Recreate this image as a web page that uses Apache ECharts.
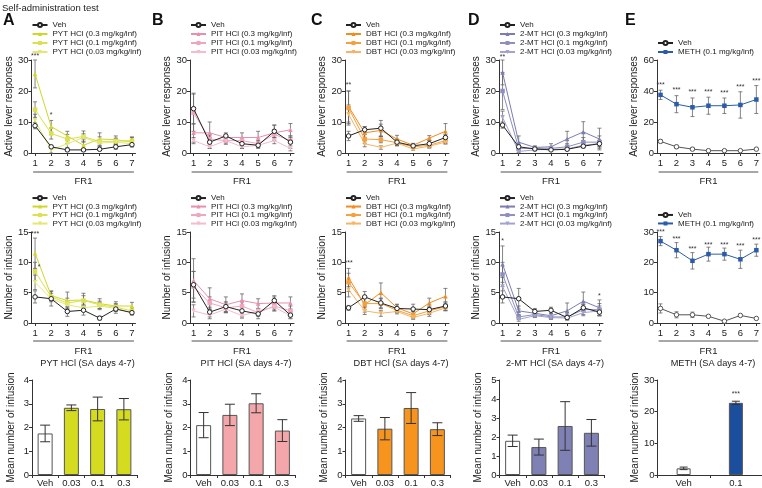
<!DOCTYPE html>
<html><head><meta charset="utf-8">
<script src="https://cdn.jsdelivr.net/npm/echarts@6/dist/echarts.min.js"></script>
<style>html,body{margin:0;padding:0;background:#fff}#c{width:762px;height:488px}</style>
</head><body><div id="c"></div>
<script>
// ---------------- DATA ----------------
const days = [1, 2, 3, 4, 5, 6, 7];
const doseLabels = ['0.3', '0.1', '0.03'];
const barCats4 = ['Veh', '0.03', '0.1', '0.3'];
const barCatsMeth = ['Veh', '0.1'];

// Panel A: PYT HCl  (rows: Veh, 0.3, 0.1, 0.03)
const pytActMean = [
  [8.8, 2.0, 1.0, 1.0, 1.2, 2.0, 2.7],
  [25.5, 8.5, 5.5, 2.5, 4.5, 4.3, 3.5],
  [14.0, 6.3, 4.5, 5.3, 3.7, 3.8, 4.0],
  [10.5, 1.0, 3.0, 5.0, 3.2, 3.5, 3.0]
];
const pytActSem = [
  [1.0, 0.5, 0.4, 0.4, 0.4, 0.8, 0.5],
  [4.5, 2.0, 1.5, 2.0, 2.0, 1.2, 1.5],
  [2.5, 1.8, 1.5, 1.8, 1.5, 1.0, 1.2],
  [2.0, 1.0, 1.2, 1.2, 1.0, 1.0, 1.0]
];
const pytActStars = [[1, 31.3, '***'], [2, 12.2, '*']];
const pytInfMean = [
  [4.3, 4.0, 1.9, 2.1, 0.8, 2.3, 1.7],
  [11.5, 4.5, 3.7, 3.8, 3.2, 2.8, 2.8],
  [8.5, 4.3, 3.3, 3.7, 3.0, 2.6, 2.0],
  [6.7, 4.0, 3.0, 2.5, 2.8, 2.4, 1.7]
];
const pytInfSem = [
  [1.0, 1.2, 0.8, 0.8, 0.3, 0.7, 0.3],
  [2.5, 0.8, 1.4, 1.1, 0.8, 0.7, 0.6],
  [1.5, 0.6, 0.8, 0.8, 0.6, 0.6, 0.5],
  [1.2, 0.5, 0.7, 0.6, 0.6, 0.5, 0.4]
];
const pytInfStars = [[1, 14.6, '***'], [1.25, 9.3, '*']];
const pytBarMean = [1.75, 2.83, 2.78, 2.77];
const pytBarSem = [0.35, 0.12, 0.5, 0.45];

// Panel B: PIT HCl
const pitActMean = [
  [14.3, 3.5, 5.5, 3.0, 2.5, 7.0, 3.5],
  [6.5, 6.5, 5.0, 5.0, 5.0, 6.5, 7.5],
  [13.0, 4.5, 4.0, 4.0, 3.0, 6.0, 4.0],
  [4.0, 2.0, 4.0, 2.0, 2.5, 4.0, 1.5]
];
const pitActSem = [
  [5.0, 2.0, 1.0, 1.5, 1.0, 2.0, 2.0],
  [3.0, 3.5, 1.0, 1.5, 2.0, 2.5, 2.0],
  [6.0, 1.5, 1.2, 1.0, 1.0, 1.5, 1.0],
  [1.0, 0.5, 0.8, 0.5, 0.8, 1.0, 0.8]
];
const pitActStars = [];
const pitInfMean = [
  [6.3, 1.8, 2.7, 2.0, 1.5, 3.7, 1.3],
  [7.0, 4.0, 3.0, 3.7, 3.2, 3.3, 3.3],
  [6.0, 3.3, 2.5, 2.8, 1.7, 2.8, 2.0],
  [2.0, 1.3, 2.3, 1.2, 2.0, 2.6, 1.2]
];
const pitInfSem = [
  [2.2, 0.8, 0.8, 1.0, 0.8, 0.8, 0.6],
  [3.6, 1.8, 1.3, 1.1, 0.8, 1.0, 1.0],
  [2.5, 1.0, 0.8, 0.8, 0.6, 0.8, 0.8],
  [1.0, 0.6, 0.5, 0.4, 0.4, 0.6, 0.4]
];
const pitInfStars = [];
const pitBarMean = [2.1, 2.53, 3.02, 1.87];
const pitBarSem = [0.53, 0.45, 0.4, 0.46];

// Panel C: DBT HCl
const dbtActMean = [
  [5.5, 7.5, 8.0, 3.5, 2.3, 3.0, 5.0],
  [15.0, 6.5, 7.3, 4.5, 2.5, 4.8, 7.0],
  [14.5, 4.5, 4.3, 3.3, 2.0, 2.5, 4.0],
  [12.5, 3.0, 1.8, 3.2, 1.3, 2.2, 3.5]
];
const dbtActSem = [
  [1.5, 1.0, 2.5, 1.0, 0.5, 1.0, 1.0],
  [5.0, 2.0, 2.0, 1.2, 0.6, 0.8, 2.5],
  [5.5, 1.5, 1.0, 1.0, 0.5, 0.8, 1.0],
  [3.0, 1.0, 0.6, 0.8, 0.4, 0.6, 0.6]
];
const dbtActStars = [[1, 21.8, '**']];
const dbtInfMean = [
  [2.5, 4.3, 3.3, 2.4, 2.3, 2.2, 2.8],
  [7.5, 3.0, 5.0, 2.5, 1.5, 3.3, 4.4],
  [6.7, 3.2, 3.2, 2.1, 1.2, 2.0, 2.7],
  [5.5, 2.0, 1.6, 1.9, 0.9, 1.6, 2.5]
];
const dbtInfSem = [
  [0.4, 0.9, 0.8, 0.6, 0.8, 0.6, 0.7],
  [1.5, 1.2, 1.6, 0.6, 0.4, 0.8, 1.3],
  [1.5, 1.0, 0.8, 0.4, 0.4, 0.6, 0.6],
  [1.2, 0.6, 0.5, 0.4, 0.3, 0.5, 0.5]
];
const dbtInfStars = [[1, 9.9, '***']];
const dbtBarMean = [2.38, 1.95, 2.82, 1.93];
const dbtBarSem = [0.12, 0.47, 0.65, 0.27];

// Panel D: 2-MT HCl
const mtActMean = [
  [9.0, 2.0, 1.3, 1.0, 1.2, 2.2, 3.0],
  [26.0, 3.5, 1.8, 2.0, 4.5, 6.8, 4.5],
  [20.0, 1.5, 1.5, 1.5, 2.0, 3.5, 3.5],
  [11.5, 0.5, 1.0, 1.2, 1.3, 2.5, 3.0]
];
const mtActSem = [
  [1.0, 0.5, 0.3, 0.3, 0.3, 0.5, 1.0],
  [4.0, 2.0, 0.5, 1.0, 2.5, 3.3, 3.5],
  [6.0, 0.8, 0.4, 0.5, 1.0, 1.5, 2.0],
  [2.0, 0.3, 0.3, 0.4, 0.5, 0.8, 1.0]
];
const mtActStars = [[1, 31.0, '**']];
const mtInfMean = [
  [4.3, 4.0, 1.9, 2.1, 0.9, 2.5, 1.8],
  [9.7, 2.0, 1.6, 1.2, 2.0, 3.6, 2.5],
  [8.0, 1.0, 1.4, 1.0, 1.0, 2.2, 2.2],
  [6.0, 0.6, 1.2, 0.9, 0.8, 1.7, 2.0]
];
const mtInfSem = [
  [1.0, 1.7, 0.5, 0.5, 0.3, 0.6, 0.5],
  [3.0, 0.8, 0.5, 0.4, 1.3, 1.5, 1.3],
  [2.0, 0.4, 0.4, 0.3, 0.5, 0.8, 1.0],
  [1.5, 0.3, 0.3, 0.3, 0.3, 0.5, 0.8]
];
const mtInfStars = [[1, 13.5, '*'], [7, 4.4, '*']];
const mtBarMean = [1.8, 1.47, 2.58, 2.22];
const mtBarSem = [0.3, 0.42, 1.28, 0.7];

// Panel E: METH  (rows: Veh, METH 0.1)
const methActMean = [
  [7.5, 4.0, 2.5, 1.5, 1.5, 1.5, 2.5],
  [37.5, 31.5, 29.5, 30.5, 30.5, 31.0, 34.5]
];
const methActSem = [
  [1.0, 1.0, 0.8, 0.5, 0.5, 0.5, 0.5],
  [3.0, 5.5, 6.0, 5.5, 5.0, 8.5, 9.0]
];
const methActStars = [[1, 44, '***'], [2, 40.5, '***'], [3, 39, '***'], [4, 39.5, '***'], [5, 38.8, '***'], [6, 42.5, '***'], [7, 46.5, '***']];
const methInfMean = [
  [4.8, 2.7, 2.7, 2.2, 0.6, 2.5, 1.5],
  [27.0, 24.0, 20.5, 22.7, 22.7, 21.0, 24.0]
];
const methInfSem = [
  [1.5, 1.0, 0.9, 0.3, 0.2, 0.3, 0.2],
  [1.5, 2.5, 2.7, 2.3, 2.0, 3.0, 2.0]
];
const methInfStars = [[1, 30, '***'], [2, 27.8, '***'], [3, 24.5, '***'], [4, 25.8, '***'], [5, 25.6, '***'], [6, 25.3, '***'], [7, 27.3, '***']];
const methBarMean = [2.1, 22.8];
const methBarSem = [0.4, 0.5];
const methBarStars = [['0.1', 25.6, '***']];

// ---------------- LAYOUT / STYLE ----------------
const FONT = '"Liberation Sans", Arial, sans-serif';
const colLeft = [31.5, 190, 345, 499, 657];
const gridW = 104;
const rowBox = [{top: 60, height: 93}, {top: 232, height: 91}, {top: 380, height: 95}];
const AX = '#333';

const panels = [
  {letter: 'A', drug: 'PYT HCl', colors: ['#cfd82a', '#dbe04c', '#e4e873'], bar: '#d5dc1f',
   act: [pytActMean, pytActSem, pytActStars], inf: [pytInfMean, pytInfSem, pytInfStars], bars: [barCats4, pytBarMean, pytBarSem, []], barMax: 4, barInt: 1},
  {letter: 'B', drug: 'PIT HCl', colors: ['#e98fac', '#efa5bd', '#f4bccf'], bar: '#f4a7aa',
   act: [pitActMean, pitActSem, pitActStars], inf: [pitInfMean, pitInfSem, pitInfStars], bars: [barCats4, pitBarMean, pitBarSem, []], barMax: 4, barInt: 1},
  {letter: 'C', drug: 'DBT HCl', colors: ['#f28c1e', '#f5a03e', '#f7b466'], bar: '#f7941d',
   act: [dbtActMean, dbtActSem, dbtActStars], inf: [dbtInfMean, dbtInfSem, dbtInfStars], bars: [barCats4, dbtBarMean, dbtBarSem, []], barMax: 4, barInt: 1},
  {letter: 'D', drug: '2-MT HCl', colors: ['#7c7db2', '#8e8fc0', '#a3a4cd'], bar: '#7f80b4',
   act: [mtActMean, mtActSem, mtActStars], inf: [mtInfMean, mtInfSem, mtInfStars], bars: [barCats4, mtBarMean, mtBarSem, []], barMax: 5, barInt: 1},
  {letter: 'E', drug: 'METH', colors: ['#2a5ca8'], bar: '#1b4f9e',
   act: [methActMean, methActSem, methActStars], inf: [methInfMean, methInfSem, methInfStars], bars: [barCatsMeth, methBarMean, methBarSem, methBarStars], barMax: 30, barInt: 10}
];

function errRender(capW, color, lw) {
  return function (params, api) {
    const x = api.value(0);
    const lo = api.coord([x, api.value(1)]);
    const hi = api.coord([x, api.value(2)]);
    const st = {stroke: color, lineWidth: lw};
    return {type: 'group', children: [
      {type: 'line', shape: {x1: lo[0], y1: lo[1], x2: hi[0], y2: hi[1]}, style: st},
      {type: 'line', shape: {x1: hi[0] - capW / 2, y1: hi[1], x2: hi[0] + capW / 2, y2: hi[1]}, style: st},
      {type: 'line', shape: {x1: lo[0] - capW / 2, y1: lo[1], x2: lo[0] + capW / 2, y2: lo[1]}, style: st}
    ]};
  };
}

function starRender(params, api) {
  const pt = api.coord([api.value(0), api.value(1)]);
  return {type: 'text', x: pt[0], y: pt[1],
    style: {text: api.value(2), fontSize: 7, fill: '#333', fontFamily: FONT, align: 'center', verticalAlign: 'middle'}};
}

const grids = new Array(15), xAxes = new Array(15), yAxes = new Array(15), series = [], legends = [];

function starSeries(gi, stars) {
  if (!stars.length) return;
  series.push({type: 'custom', xAxisIndex: gi, yAxisIndex: gi, silent: true, z: 6,
    renderItem: starRender, encode: {x: 0, y: 1},
    dimensions: ['x', 'y', {name: 'txt', type: 'ordinal'}],
    data: stars});
}

function yAxisCfg(gi, max, interval, name, gap) {
  return {type: 'value', gridIndex: gi, min: 0, max: max, interval: interval,
    axisLine: {show: true, lineStyle: {color: AX, width: 1}},
    axisTick: {show: true, length: 3, lineStyle: {color: AX}},
    axisLabel: {fontSize: 9.5, color: '#222', margin: 3, fontFamily: FONT},
    splitLine: {show: false},
    name: name, nameLocation: 'middle', nameRotate: 90, nameGap: gap,
    nameTextStyle: {fontSize: 10, color: '#222', fontFamily: FONT}};
}

panels.forEach((p, c) => {
  const isMeth = c === 4;
  const names = isMeth ? ['Veh', 'METH (0.1 mg/kg/inf)'] : ['Veh'].concat(doseLabels.map(d => p.drug + ' (' + d + ' mg/kg/inf)'));
  // line rows
  [p.act, p.inf].forEach((blk, r) => {
    const gi = r * 5 + c;
    grids[gi] = {left: colLeft[c], top: rowBox[r].top, width: gridW, height: rowBox[r].height};
    xAxes[gi] = {type: 'value', gridIndex: gi, min: 0.78, max: 7.22,
      axisLine: {show: true, onZero: false, lineStyle: {color: AX, width: 1}},
      axisTick: {show: true, length: 3, customValues: days, lineStyle: {color: AX}},
      axisLabel: {customValues: days, fontSize: 9.5, color: '#222', margin: 5, fontFamily: FONT},
      splitLine: {show: false},
      name: 'FR1', nameLocation: 'middle', nameGap: 23,
      nameTextStyle: {fontSize: 9.5, color: '#222', fontFamily: FONT}};
    let ymax, yint, yname;
    if (r === 0) { ymax = isMeth ? 60 : 30; yint = isMeth ? 20 : 10; yname = 'Active lever responses'; }
    else { ymax = isMeth ? 30 : 15; yint = isMeth ? 10 : 5; yname = isMeth ? '' : 'Number of infusion'; }
    yAxes[gi] = yAxisCfg(gi, ymax, yint, yname, 16);
    const means = blk[0], sems = blk[1];
    means.forEach((m, k) => {
      series.push({type: 'custom', xAxisIndex: gi, yAxisIndex: gi, silent: true, z: 2,
        renderItem: errRender(4, '#666', 0.8), encode: {x: 0, y: [1, 2]},
        data: days.map((d, i) => [d, Math.max(0, m[i] - sems[k][i]), m[i] + sems[k][i]])});
    });
    means.forEach((m, k) => {
      let s;
      if (k === 0) {
        const vc = isMeth ? '#555' : '#222';
        s = {symbol: 'circle', symbolSize: 4.5, color: vc, itemStyle: {color: '#fff', borderColor: vc, borderWidth: 1}, lineStyle: {color: vc, width: 1}};
      } else {
        const col = p.colors[k - 1];
        const sym = isMeth ? 'rect' : ['triangle', 'rect', 'triangle'][k - 1];
        const rot = (!isMeth && k === 3) ? 180 : 0;
        s = {symbol: sym, symbolRotate: rot, symbolSize: 4.5, color: col, itemStyle: {color: col}, lineStyle: {color: col, width: 1}};
      }
      series.push(Object.assign({type: 'line', name: names[k], xAxisIndex: gi, yAxisIndex: gi, z: k === 0 ? 5 : 4,
        data: days.map((d, i) => [d, m[i]])}, s));
    });
    starSeries(gi, blk[2]);
    const lt = r === 0 ? (isMeth ? 38.5 : 20.5) : (isMeth ? 210.7 : 193.8);
    const lh = r === 0 ? 9 : 8.5;
    legends.push({orient: 'vertical', left: colLeft[c], top: lt, padding: 0, itemGap: 0,
      itemWidth: 15, itemHeight: 5, selectedMode: false, data: names,
      textStyle: {fontSize: 8, lineHeight: lh, color: '#222', fontFamily: FONT}});
  });
  // bar row
  const gi = 10 + c;
  const cats = p.bars[0], bm = p.bars[1], bs = p.bars[2];
  grids[gi] = {left: colLeft[c] + 0.5, top: rowBox[2].top, width: gridW + 1, height: rowBox[2].height};
  xAxes[gi] = {type: 'category', gridIndex: gi, data: cats,
    axisLine: {show: true, lineStyle: {color: AX, width: 1}},
    axisTick: {show: true, length: 3, lineStyle: {color: AX}},
    axisLabel: {fontSize: 9.5, color: '#222', margin: 3, interval: 0, fontFamily: FONT}};
  yAxes[gi] = yAxisCfg(gi, p.barMax, p.barInt, 'Mean number of infusion', 16);
  series.push({type: 'bar', xAxisIndex: gi, yAxisIndex: gi, barWidth: isMeth ? 14 : 15, silent: true, z: 2,
    data: bm.map((v, i) => ({value: v, itemStyle: {color: i === 0 ? '#fff' : p.bar, borderColor: '#555', borderWidth: 1}}))});
  series.push({type: 'custom', xAxisIndex: gi, yAxisIndex: gi, silent: true, z: 5,
    renderItem: errRender(isMeth ? 8 : 10, '#333', 1), encode: {x: 0, y: [1, 2]},
    data: bm.map((v, i) => [i, v - bs[i], v + bs[i]])});
  starSeries(gi, p.bars[3].map(s => [cats.indexOf(s[0]), s[1], s[2]]));
});

const chart = echarts.init(document.getElementById('c'), null, {renderer: 'canvas'});
chart.setOption({
  animation: false,
  backgroundColor: '#fff',
  textStyle: {fontFamily: FONT},
  grid: grids, xAxis: xAxes, yAxis: yAxes, legend: legends, series: series
});

// decorations: titles, panel letters, FR1 underline bars
const gfx = [];
gfx.push({type: 'text', left: 2, top: 3, style: {text: 'Self-administration test', fontSize: 9.5, fill: '#222', fontFamily: FONT}});
const letterX = [3, 152, 311, 468, 625];
panels.forEach((p, c) => {
  gfx.push({type: 'text', left: letterX[c], top: 13, style: {text: p.letter, fontSize: 16, fontWeight: 'bold', fill: '#111', fontFamily: FONT}});
  [0, 1].forEach(r => {
    const gi = r * 5 + c;
    const x1 = chart.convertToPixel({xAxisIndex: gi}, 0.88);
    const x2 = chart.convertToPixel({xAxisIndex: gi}, 7.12);
    const y0 = chart.convertToPixel({yAxisIndex: gi}, 0) + (r === 0 ? 19 : 18);
    gfx.push({type: 'line', shape: {x1: x1, y1: y0, x2: x2, y2: y0}, style: {stroke: '#8a8a8a', lineWidth: 1.5}, silent: true});
  });
  const cx = colLeft[c] + gridW / 2 + 4;
  gfx.push({type: 'text', x: cx, y: 363, style: {text: p.drug + ' (SA days 4-7)', fontSize: 9.2, fill: '#222', fontFamily: FONT, align: 'center', verticalAlign: 'middle'}});
});
chart.setOption({graphic: gfx});
</script>
</body></html>
